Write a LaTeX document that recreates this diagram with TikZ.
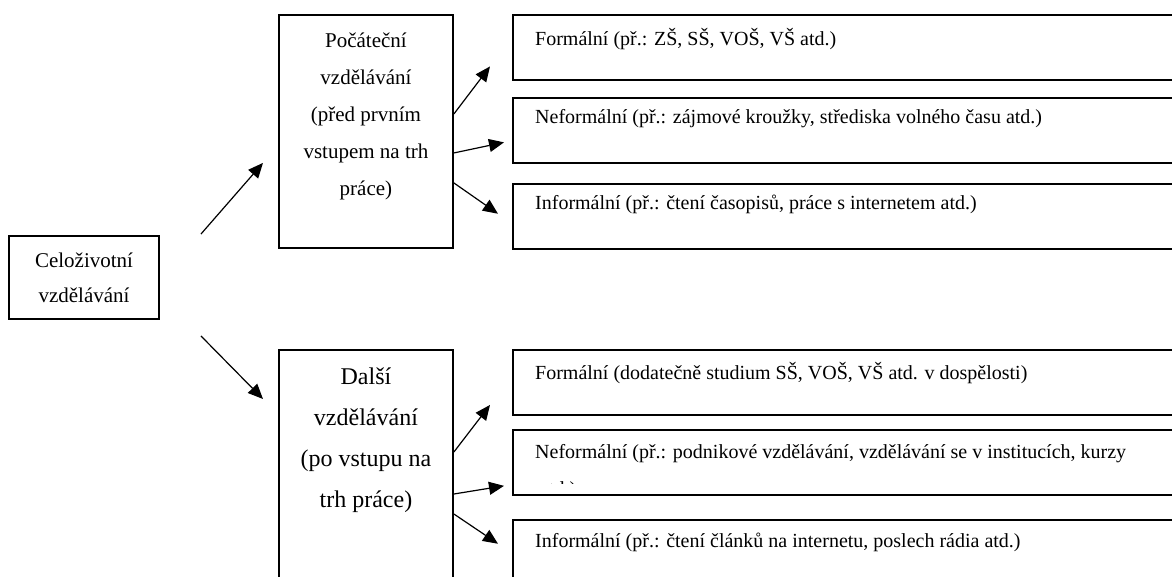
\documentclass[tikz,border=0pt]{standalone}
\usepackage{fontspec}
\setmainfont{Liberation Serif}
\usetikzlibrary{positioning,calc,arrows.meta}

\begin{document}
\begin{tikzpicture}[x=1pt, y=-1pt,
        box/.style={draw, rectangle, line width=1.9pt, inner sep=0pt},
        sidebox/.style={box, minimum width=174pt, minimum height=233pt, anchor=north west},
        formbox/.style={box, minimum width=680pt, minimum height=65pt, anchor=north west},
        formtext/.style={anchor=west, inner sep=0pt, font=\fontsize{20}{35}\selectfont},
        arr/.style={-{Triangle[length=15pt, width=13pt]}, line width=1.2pt}
    ]
        \useasboundingbox (0,0) rectangle (1172,577);
        \clip (0,0) rectangle (1172,577);

        % main boxes
        \node [box, minimum width=150pt, minimum height=83pt, align=center, font=\fontsize{21}{35}\selectfont] (cel) at (84,277.5) {Celoživotní\\vzdělávání};
        \node [sidebox] (poc) at (278,14) {};
        \node [align=center, inner sep=0pt, font=\fontsize{21}{37}\selectfont] (poctext) at ($(poc.north)+(0,102.5)$) {Počáteční\\vzdělávání\\(před prvním\\vstupem na trh\\práce)};
        \node [sidebox, minimum height=260pt] (dal) at (278,349) {};
        \node [align=center, inner sep=0pt, font=\fontsize{24}{41}\selectfont] (daltext) at ($(dal.north)+(0,91.5)$) {Další\\vzdělávání\\(po vstupu na\\trh práce)};

        % forms of initial education
        \node [formbox] (pf) at (512,14) {};
        \node [formbox, below=16pt of pf] (pn) {};
        \node [formbox, below=19pt of pn] (pi) {};
        \node [formtext] (pftext) at ($(pf.north west)+(23,25)$) {Formální (př.: ZŠ, SŠ, VOŠ, VŠ atd.)};
        \node [formtext] (pntext) at ($(pn.north west)+(23,22)$) {Neformální (př.: zájmové kroužky, střediska volného času atd.)};
        \node [formtext] (pitext) at ($(pi.north west)+(23,22)$) {Informální (př.: čtení časopisů, práce s internetem atd.)};

        % forms of further education
        \node [formbox] (df) at (512,349) {};
        \node [formbox, below=13pt of df] (dn) {};
        \node [formbox, below=23pt of dn] (di) {};
        \node [formtext] (dftext) at ($(df.north west)+(23,24)$) {Formální (dodatečně studium SŠ, VOŠ, VŠ atd. v dospělosti)};
        \node [formtext] (dntext) at ($(dn.north west)+(23,25)$) {Neformální (př.: podnikové vzdělávání, vzdělávání se v institucích, kurzy};
        \begin{scope}
            \clip (dn.north west) rectangle ($(dn.south east)+(0,-12)$);
            \node [formtext] (dnmore) at ($(dntext.west)+(5,37)$) {atd.)};
        \end{scope}
        \node [formtext] (ditext) at ($(di.north west)+(23,24)$) {Informální (př.: čtení článků na internetu, poslech rádia atd.)};

        % arrow ends
        \coordinate (celup) at ($(cel.north east)+(41,-1)$);
        \coordinate (celdown) at ($(cel.south east)+(41,16)$);
        \coordinate (pocin) at ($(poc.south west)+(-15,-86)$);
        \coordinate (dalin) at ($(dal.north west)+(-15,50)$);
        \coordinate (poc1) at ($(poc.east)+(0,-17.5)$);
        \coordinate (poc2) at ($(poc.east)+(0,21.5)$);
        \coordinate (poc3) at ($(poc.east)+(0,51.5)$);
        \coordinate (dal1) at ($(dal.north east)+(0,103)$);
        \coordinate (dal2) at ($(dal.north east)+(0,145)$);
        \coordinate (dal3) at ($(dal.north east)+(0,165)$);
        \coordinate (pfin) at ($(pf.west)+(-22,19)$);
        \coordinate (pnin) at ($(pn.west)+(-8,12)$);
        \coordinate (piin) at ($(pi.west)+(-14,-2.5)$);
        \coordinate (dfin) at ($(df.west)+(-22,22.5)$);
        \coordinate (dnin) at ($(dn.west)+(-8,23.5)$);
        \coordinate (diin) at ($(di.west)+(-14,-8.5)$);

        \draw [arr] (celup) -- (pocin);
        \draw [arr] (celdown) -- (dalin);
        \draw [arr] (poc1) -- (pfin);
        \draw [arr] (poc2) -- (pnin);
        \draw [arr] (poc3) -- (piin);
        \draw [arr] (dal1) -- (dfin);
        \draw [arr] (dal2) -- (dnin);
        \draw [arr] (dal3) -- (diin);
    \end{tikzpicture}
\end{document}
